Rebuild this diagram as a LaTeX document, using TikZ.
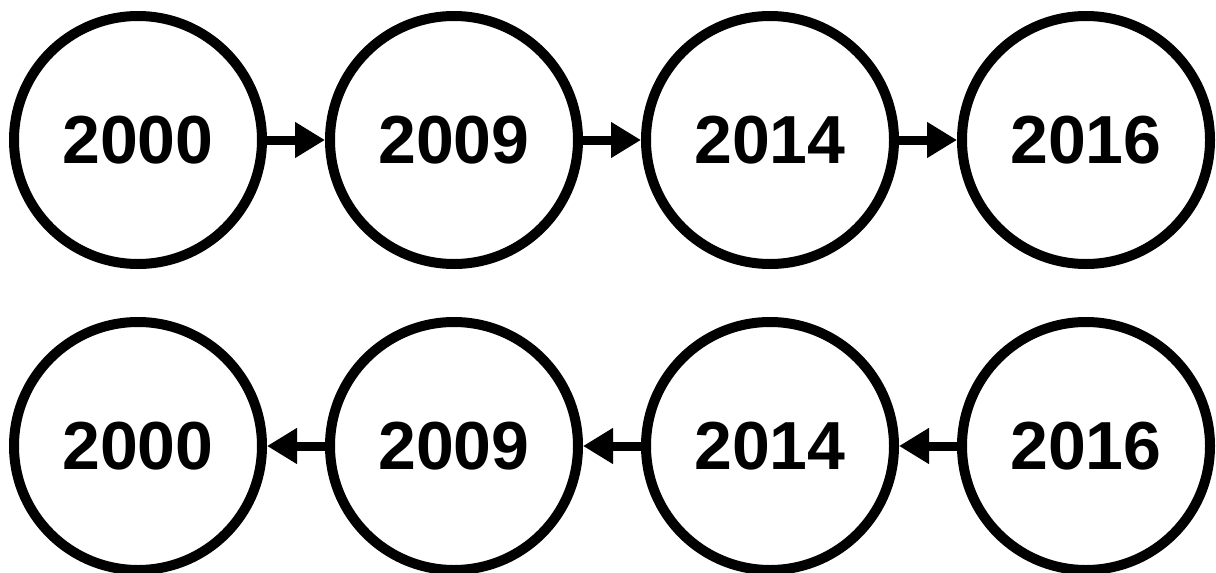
\documentclass[tikz,border=0pt]{standalone}
\usepackage{fontspec}
\setmainfont{Liberation Sans}
\usetikzlibrary{arrows.meta}
\begin{document}
\begin{tikzpicture}[x=1pt,y=-1pt,
  yearnode/.style={circle,draw=black,line width=10pt,minimum size=248pt,inner sep=0pt,font=\fontsize{68}{68}\selectfont\bfseries},
  conn/.style={line width=9pt,-{Triangle[length=30pt,width=34pt]}}]
\useasboundingbox (0,0) rectangle (1216,573);
\node[yearnode] (a1) at (138,140) {2000};
\node[yearnode] (a2) at (454,140) {2009};
\node[yearnode] (a3) at (770,140) {2014};
\node[yearnode] (a4) at (1086,140) {2016};
\node[yearnode] (b1) at (138,446) {2000};
\node[yearnode] (b2) at (454,446) {2009};
\node[yearnode] (b3) at (770,446) {2014};
\node[yearnode] (b4) at (1086,446) {2016};
\draw[conn] (a1.east) -- (a2.west);
\draw[conn] (a2.east) -- (a3.west);
\draw[conn] (a3.east) -- (a4.west);
\draw[conn] (b2.west) -- (b1.east);
\draw[conn] (b3.west) -- (b2.east);
\draw[conn] (b4.west) -- (b3.east);
\end{tikzpicture}
\end{document}
